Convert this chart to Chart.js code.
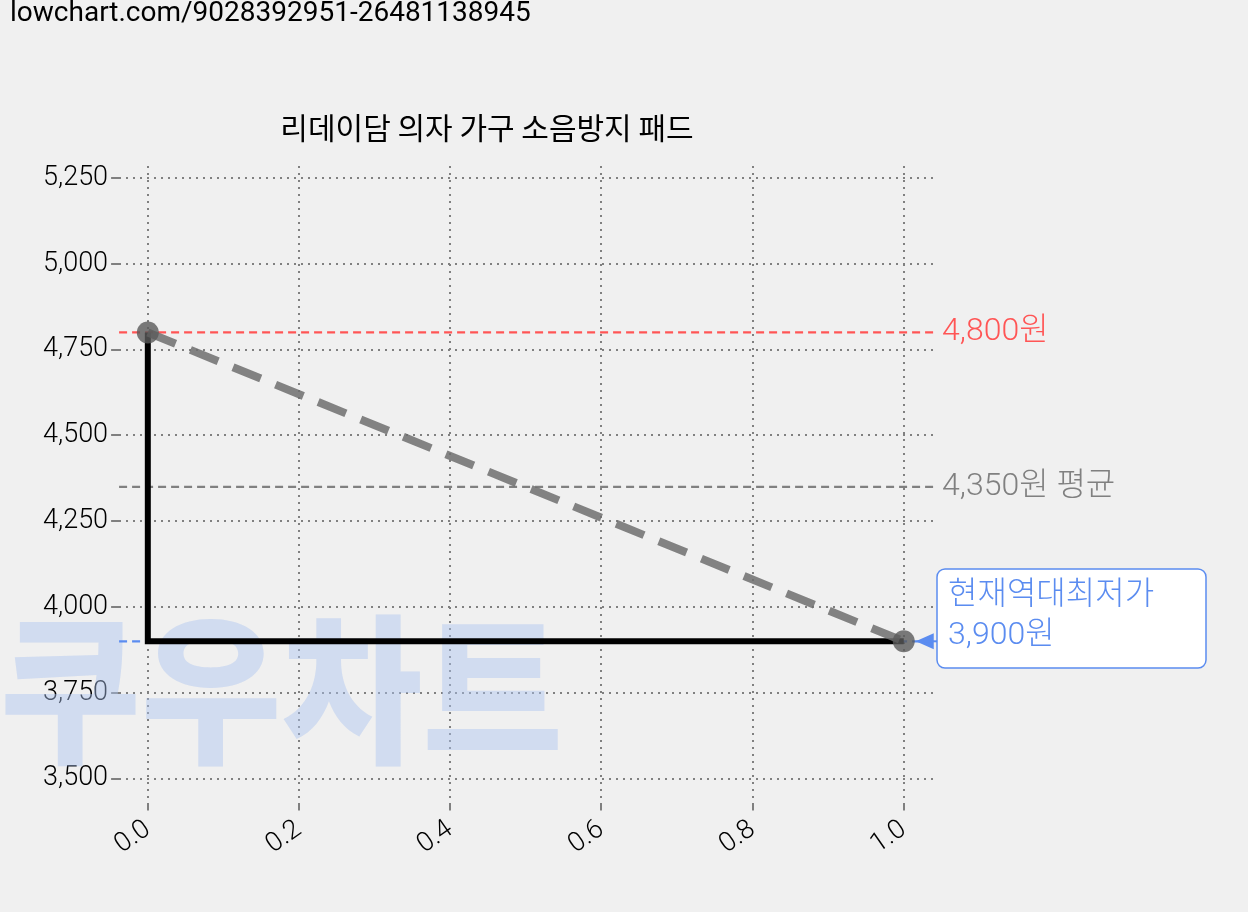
<!DOCTYPE html>
<html><head><meta charset="utf-8">
<script src="https://cdn.jsdelivr.net/npm/chart.js@4"></script>
<style>html,body{margin:0;background:#f0f0f0;}#w{position:relative;width:1248px;height:912px;}</style>
</head><body><div id="w"><canvas id="c" width="1248" height="912"></canvas></div>
<script>
const xTicks=[0,0.2,0.4,0.6,0.8,1.0];
const yTicks=[3500,3750,4000,4250,4500,4750,5000,5250];
const stepX=[0,0,1];
const stepY=[4800,3900,3900];
const trendX=[0,1];
const trendY=[4800,3900];
const maxPrice=4800, avgPrice=4350, minPrice=3900;
const F='Roboto,"Noto Sans CJK KR",sans-serif';
const K='"Noto Sans CJK KR",sans-serif';
const ann={id:'ann',
 beforeDatasetsDraw(ch){const c=ch.ctx,y=ch.scales.y,a=ch.chartArea;c.save();
  c.font='900 170px '+K;c.fillStyle='rgba(170,195,240,0.45)';c.textBaseline='alphabetic';
  c.setTransform(0.9,0,0,0.95,0,0);
  c.fillText('쿠우차트',0,790);c.setTransform(1,0,0,1,0,0);
  const L=(v,col)=>{c.strokeStyle=col;c.lineWidth=2.2;c.setLineDash([8,5]);c.beginPath();c.moveTo(a.left,y.getPixelForValue(v));c.lineTo(a.right,y.getPixelForValue(v));c.stroke();};
  L(maxPrice,'#ff5555');L(avgPrice,'#808080');L(minPrice,'#5b8cf0');c.restore();},
 afterDraw(ch){const c=ch.ctx,y=ch.scales.y,x=ch.scales.x;c.save();c.font='300 32px '+F;c.textBaseline='middle';
  c.fillStyle='#ff5555';c.fillText('4,800원',942,y.getPixelForValue(maxPrice));
  c.fillStyle='#808080';c.fillText('4,350원 평균',942,y.getPixelForValue(avgPrice));
  const yy=y.getPixelForValue(minPrice),xx=x.getPixelForValue(1);
  c.strokeStyle='#5b8cf0';c.fillStyle='#fff';c.lineWidth=1.5;c.setLineDash([]);
  c.beginPath();c.roundRect(937,569,269,99,8);c.fill();c.stroke();
  c.fillStyle='#5b8cf0';c.beginPath();c.moveTo(xx+12,yy);c.lineTo(xx+30,yy-8);c.lineTo(xx+30,yy+8);c.fill();
  c.lineWidth=2;c.beginPath();c.moveTo(xx+20,yy);c.lineTo(937,yy);c.stroke();
  c.fillText('현재역대최저가',948,596);c.fillText('3,900원',948,636);
  c.font='28px '+F;c.fillStyle='#000';c.textBaseline='top';c.fillText('lowchart.com/9028392951-26481138945',10,0);
  c.restore();}};
new Chart(document.getElementById('c'),{type:'scatter',
 data:{datasets:[
  {data:stepX.map((v,i)=>({x:v,y:stepY[i]})),showLine:true,borderColor:'#000',borderWidth:6,pointRadius:0,order:2},
  {data:trendX.map((v,i)=>({x:v,y:trendY[i]})),showLine:true,borderColor:'rgba(110,110,110,0.85)',borderWidth:8,borderDash:[30,16],pointRadius:11,pointBackgroundColor:'rgba(90,90,90,0.8)',pointBorderWidth:0,order:1}]},
 options:{responsive:false,animation:false,
  layout:{padding:{left:40,right:314,top:90,bottom:48}},
  plugins:{legend:{display:false},tooltip:{enabled:false},
   title:{display:true,text:'리데이담 의자 가구 소음방지 패드',color:'#000',font:{family:K,size:30,weight:'normal'},padding:{top:20,bottom:20}}},
  scales:{
   x:{type:'linear',min:-0.038,max:1.04,afterBuildTicks:s=>{s.ticks=xTicks.map(v=>({value:v}))},
    border:{display:false,dash:[2,5]},grid:{color:'#808080',lineWidth:2,tickLength:8},
    ticks:{color:'#000',font:{family:F,size:27,weight:300},maxRotation:35,minRotation:35,callback:v=>v.toFixed(1)}},
   y:{min:3430,max:5285,afterBuildTicks:s=>{s.ticks=yTicks.map(v=>({value:v}))},
    border:{display:false,dash:[2,5]},grid:{color:'#808080',lineWidth:2,tickLength:8},
    ticks:{color:'#000',font:{family:F,size:27,weight:300},callback:v=>v.toLocaleString('en-US')}}}},
 plugins:[ann]});
</script></body></html>
